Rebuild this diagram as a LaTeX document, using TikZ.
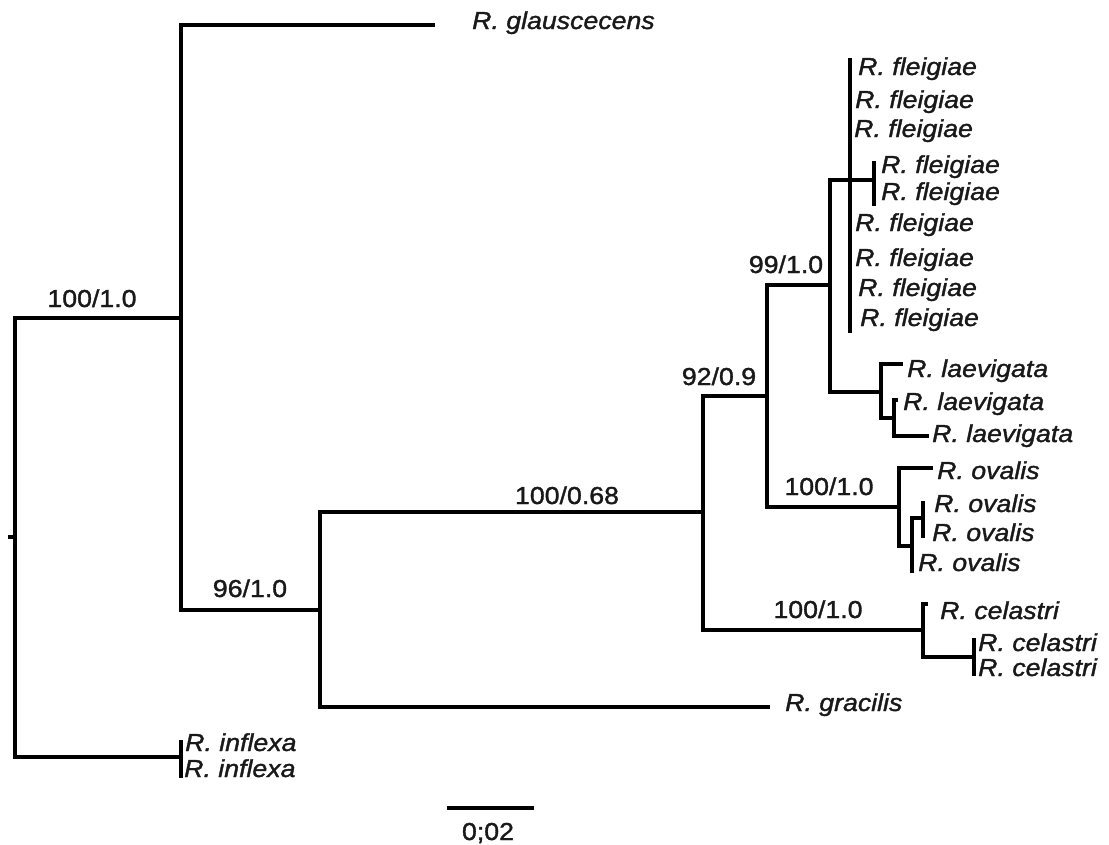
\documentclass[tikz,border=0pt]{standalone}
\usepackage{fontspec}
\setmainfont[FakeStretch=1.09,FakeBold=1.4]{Liberation Sans}
\begin{document}
\begin{tikzpicture}[x=1pt,y=-1pt,
  br/.style={line width=3.4pt, line join=miter},
  sp/.style={anchor=base west, inner sep=0pt, text=black!90, font=\fontsize{24.5}{28}\selectfont\itshape},
  sup/.style={anchor=base, inner sep=0pt, text=black!90, font=\fontsize{24.5}{28}\selectfont}]
\useasboundingbox (0,0) rectangle (1109,844);
% internal nodes
\coordinate (stub) at (8,537);
\coordinate (r) at (15,537);
\coordinate (A) at (181,318);
\coordinate (Inf) at (181,757);
\coordinate (Inf1) at (181,740);
\coordinate (Inf2) at (181,778);
\coordinate (glau) at (435,25);
\coordinate (B) at (320,610);
\coordinate (grac) at (770,707);
\coordinate (C) at (703,512);
\coordinate (D) at (767,396);
\coordinate (E) at (830,285);
\coordinate (F) at (850,180);
\coordinate (Ftop) at (850,58);
\coordinate (Fbot) at (850,333);
\coordinate (G) at (874,180);
\coordinate (G1) at (874,161);
\coordinate (G2) at (874,206);
\coordinate (H) at (881,392);
\coordinate (L1) at (903,364);
\coordinate (I) at (894,418);
\coordinate (L2) at (898,400);
\coordinate (L3) at (929,436);
\coordinate (J) at (899,507);
\coordinate (O1) at (933,468);
\coordinate (K) at (912,546);
\coordinate (O4) at (912,573);
\coordinate (M) at (923,518);
\coordinate (M1) at (923,501);
\coordinate (M2) at (923,538);
\coordinate (N) at (923,630);
\coordinate (Ce1) at (928,604);
\coordinate (P) at (974,657);
\coordinate (P1) at (974,638);
\coordinate (P2) at (974,676);
\coordinate (sb1) at (447,808);
\coordinate (sb2) at (534,808);
% branches
\draw[br] (stub) -- (r);
\draw[br] (r) |- (A);
\draw[br] (r) |- (Inf);
\draw[br] (Inf1) -- (Inf2);
\draw[br] (A) |- (glau);
\draw[br] (A) |- (B);
\draw[br] (B) |- (C);
\draw[br] (B) |- (grac);
\draw[br] (C) |- (D);
\draw[br] (C) |- (N);
\draw[br] (D) |- (E);
\draw[br] (D) |- (J);
\draw[br] (E) |- (F) -- (G);
\draw[br] (Ftop) -- (Fbot);
\draw[br] (G1) -- (G2);
\draw[br] (E) |- (H);
\draw[br] (H) |- (L1);
\draw[br] (H) |- (I);
\draw[br] (I) |- (L2);
\draw[br] (I) |- (L3);
\draw[br] (J) |- (O1);
\draw[br] (J) |- (K);
\draw[br] (K) |- (M);
\draw[br] (K) -- (O4);
\draw[br] (M1) -- (M2);
\draw[br] (N) |- (Ce1);
\draw[br] (N) |- (P);
\draw[br] (P1) -- (P2);
\draw[br] (sb1) -- (sb2);
% species labels
\node[sp] (tglau) at (472,29) {R. glauscecens};
\node[sp] (tf1) at (858,75) {R. fleigiae};
\node[sp] (tf2) at (855,108) {R. fleigiae};
\node[sp] (tf3) at (854,137) {R. fleigiae};
\node[sp] (tf4) at (881,173) {R. fleigiae};
\node[sp] (tf5) at (881,200) {R. fleigiae};
\node[sp] (tf6) at (855,231) {R. fleigiae};
\node[sp] (tf7) at (855,266) {R. fleigiae};
\node[sp] (tf8) at (858,296) {R. fleigiae};
\node[sp] (tf9) at (860,326) {R. fleigiae};
\node[sp] (tl1) at (907,377) {R. laevigata};
\node[sp] (tl2) at (903,410) {R. laevigata};
\node[sp] (tl3) at (932,442) {R. laevigata};
\node[sp] (to1) at (937,479) {R. ovalis};
\node[sp] (to2) at (934,512) {R. ovalis};
\node[sp] (to3) at (932,541) {R. ovalis};
\node[sp] (to4) at (918,571) {R. ovalis};
\node[sp] (tc1) at (940,619) {R. celastri};
\node[sp] (tc2) at (978,651) {R. celastri};
\node[sp] (tc3) at (978,676) {R. celastri};
\node[sp] (tgr) at (785,711) {R. gracilis};
\node[sp] (ti1) at (185,751) {R. inflexa};
\node[sp] (ti2) at (184,777) {R. inflexa};
% support values
\node[sup] (s1) at (92,307) {100/1.0};
\node[sup] (s2) at (250,597) {96/1.0};
\node[sup] (s3) at (567,504) {100/0.68};
\node[sup] (s4) at (719,385) {92/0.9};
\node[sup] (s5) at (786,273) {99/1.0};
\node[sup] (s6) at (829,495) {100/1.0};
\node[sup] (s7) at (818,618) {100/1.0};
\node[sup] (sbl) at (488,840) {0;02};
\end{tikzpicture}
\end{document}
